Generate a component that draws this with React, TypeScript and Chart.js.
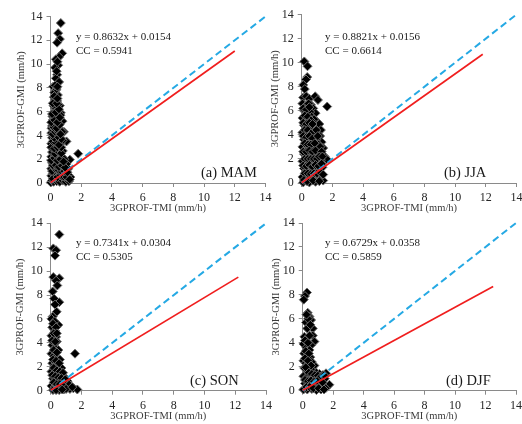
import React, { useEffect, useRef } from "react";
import { Chart, registerables } from "chart.js";

Chart.register(...registerables);

// ---------- text ----------
const panelNames = ["(a) MAM", "(b) JJA", "(c) SON", "(d) DJF"];
const equations = [
  "y = 0.8632x + 0.0154",
  "y = 0.8821x + 0.0156",
  "y = 0.7341x + 0.0304",
  "y = 0.6729x + 0.0358",
];
const ccTexts = ["CC = 0.5941", "CC = 0.6614", "CC = 0.5305", "CC = 0.5859"];
const xTitle = "3GPROF-TMI (mm/h)";
const yTitle = "3GPROF-GMI (mm/h)";

// ---------- axis ----------
const axisMin = 0;
const axisMax = 14;
const axisStep = 2;

// ---------- lines ----------
const oneToOneLine: [number, number][] = [
  [0, 0],
  [14, 14],
];
const mamFit: [number, number][] = [
  [0, 0.02],
  [12.0, 11.1],
];
const jjaFit: [number, number][] = [
  [0, 0.02],
  [11.8, 10.7],
];
const sonFit: [number, number][] = [
  [0, 0.03],
  [12.2, 9.5],
];
const djfFit: [number, number][] = [
  [0, 0.04],
  [12.5, 8.7],
];

// ---------- scatter points ----------
const mamPoints: [number, number][] = [
  [0.67, 13.45], [0.5, 12.6], [0.61, 12.1], [0.43, 11.8], [0.76, 10.9], [0.56, 10.6],
  [0.35, 10.4], [0.5, 9.9], [0.3, 9.7], [0.43, 9.1], [0.35, 8.8], [0.56, 8.5],
  [0.17, 8.1], [0.35, 7.8], [0.48, 7.4], [0.22, 7.2], [0.43, 6.9], [0.61, 6.5],
  [0.28, 6.3], [0.67, 5.9], [0.13, 5.6], [0.78, 5.2], [0.39, 5.2], [0.07, 4.6],
  [0.87, 4.3], [1.04, 3.5], [1.8, 2.46], [1.26, 1.96], [1.15, 1.2],
  [0.2, 6.5], [0.35, 6.3], [0.5, 6.6], [0.3, 7.0], [0.25, 7.6], [0.4, 7.9],
  [0.15, 5.3], [0.35, 5.5], [0.55, 5.4], [0.25, 5.9], [0.45, 6.0], [0.65, 5.7],
  [0.05, 4.2], [0.2, 4.4], [0.4, 4.1], [0.6, 4.5], [0.3, 4.9], [0.5, 4.7], [0.1, 4.8], [0.75, 4.3],
  [0.05, 3.3], [0.25, 3.2], [0.45, 3.5], [0.65, 3.3], [0.1, 3.8], [0.35, 3.9], [0.55, 3.8], [0.8, 3.6],
  [0.05, 2.2], [0.2, 2.5], [0.4, 2.1], [0.55, 2.4], [0.75, 2.2], [0.9, 2.0],
  [0.15, 2.9], [0.35, 2.8], [0.6, 2.9], [0.8, 2.7],
  [0.05, 1.2], [0.2, 1.4], [0.4, 1.1], [0.6, 1.3], [0.8, 1.2], [1.0, 1.1],
  [0.1, 1.7], [0.3, 1.9], [0.5, 1.6], [0.7, 1.8], [0.9, 1.5], [1.05, 1.6],
  [0.02, 0.05], [0.1, 0.2], [0.2, 0.1], [0.3, 0.4], [0.4, 0.15], [0.5, 0.3],
  [0.6, 0.1], [0.7, 0.45], [0.8, 0.2], [0.9, 0.35], [1.0, 0.1], [1.1, 0.3],
  [1.2, 0.15], [1.3, 0.5], [0.05, 0.6], [0.15, 0.8], [0.35, 0.7], [0.55, 0.9],
  [0.75, 0.75], [0.95, 0.8], [1.15, 0.7], [0.25, 1.0],
  [0.15, 0.35], [0.45, 0.5], [0.65, 0.65], [0.85, 0.55], [1.05, 0.5], [1.25, 0.3],
  [0.1, 1.0], [0.3, 1.2], [0.5, 1.1], [0.7, 1.0], [0.9, 1.0], [1.1, 0.9],
  [0.15, 1.5], [0.35, 1.5], [0.55, 1.35], [0.75, 1.45], [0.95, 1.3], [0.05, 1.9],
  [0.25, 2.1], [0.45, 1.9], [0.65, 2.0], [0.85, 1.8], [0.1, 2.6], [0.3, 2.45],
  [0.5, 2.65], [0.7, 2.5], [0.05, 3.0], [0.25, 2.9], [0.45, 3.0], [0.7, 3.0],
  [0.15, 3.5], [0.35, 3.4], [0.55, 3.2], [0.7, 3.7], [0.25, 3.8], [0.45, 3.95],
  [0.15, 4.1], [0.3, 4.3], [0.5, 4.3], [0.65, 4.1], [0.2, 4.7], [0.4, 4.6],
  [0.6, 4.9], [0.05, 5.1], [0.25, 5.3], [0.45, 5.1], [0.6, 5.5], [0.1, 5.8],
  [0.35, 5.95], [0.55, 6.2], [0.15, 6.7], [0.4, 6.7], [0.25, 7.3], [0.45, 7.1],
  [0.3, 8.2], [0.45, 8.1], [0.4, 9.4], [0.45, 10.2],
];

const jjaPoints: [number, number][] = [
  [0.17, 10.1], [0.38, 9.7], [0.36, 8.8], [0.28, 8.6], [0.1, 8.15], [0.2, 7.8],
  [0.1, 7.1], [0.3, 7.2], [0.5, 7.0], [0.88, 7.2], [1.06, 6.9], [1.66, 6.35],
  [0.6, 6.5], [0.75, 6.2], [0.9, 5.8], [1.0, 5.1], [1.15, 4.9], [1.25, 4.4],
  [1.2, 3.9], [1.3, 3.4], [1.4, 2.9], [1.5, 2.2], [1.62, 2.0],
  [0.05, 6.6], [0.25, 6.4], [0.45, 6.6], [0.15, 6.0], [0.35, 5.8], [0.55, 5.9],
  [0.05, 5.4], [0.25, 5.2], [0.45, 5.3], [0.65, 5.5], [0.8, 5.3], [0.15, 4.8],
  [0.35, 4.6], [0.55, 4.8], [0.05, 4.2], [0.25, 4.0], [0.45, 4.2], [0.65, 4.4],
  [0.95, 4.4], [0.15, 3.6], [0.35, 3.4], [0.55, 3.6], [0.75, 3.4], [0.95, 3.6],
  [1.1, 3.2], [0.05, 3.0], [0.25, 2.8], [0.45, 3.0], [0.65, 2.8], [0.85, 3.0],
  [1.05, 2.7], [0.15, 2.4], [0.35, 2.2], [0.55, 2.4], [0.75, 2.2], [0.95, 2.3],
  [1.2, 2.5], [0.05, 1.8], [0.25, 1.6], [0.45, 1.8], [0.65, 1.6], [0.85, 1.8],
  [1.05, 1.7], [1.25, 1.9], [0.15, 1.2], [0.35, 1.0], [0.55, 1.2], [0.75, 1.0],
  [0.95, 1.2], [1.15, 1.1], [1.35, 1.3], [0.05, 0.5], [0.25, 0.3], [0.45, 0.6],
  [0.65, 0.3], [0.85, 0.5], [1.05, 0.3], [1.25, 0.6], [1.4, 0.2], [0.1, 0.05],
  [0.5, 0.05], [0.9, 0.1],
  [0.1, 6.2], [0.3, 6.1], [0.5, 6.3], [0.2, 5.6], [0.4, 5.5], [0.6, 5.2],
  [0.1, 5.0], [0.3, 4.9], [0.5, 5.0], [0.7, 4.9], [0.2, 4.4], [0.4, 4.4],
  [0.6, 4.1], [0.1, 3.9], [0.3, 3.8], [0.5, 3.9], [0.7, 3.7], [1.05, 3.9],
  [0.2, 3.3], [0.4, 3.2], [0.6, 3.2], [0.85, 3.3], [1.2, 3.0], [0.1, 2.6],
  [0.3, 2.6], [0.5, 2.7], [0.7, 2.6], [0.9, 2.7], [1.3, 2.6], [0.2, 2.0],
  [0.4, 2.0], [0.6, 2.0], [0.8, 2.0], [1.0, 2.0], [1.15, 2.2], [1.35, 2.2],
  [0.1, 1.45], [0.3, 1.4], [0.5, 1.5], [0.7, 1.35], [0.9, 1.5], [1.1, 1.4],
  [1.3, 1.6], [0.2, 0.8], [0.4, 0.8], [0.6, 0.75], [0.8, 0.8], [1.0, 0.8],
  [1.2, 0.9], [1.4, 0.7], [0.15, 0.25], [0.35, 0.15], [0.75, 0.2], [1.15, 0.15],
];

const sonPoints: [number, number][] = [
  [0.56, 13.06], [0.17, 11.9], [0.35, 11.75], [0.28, 11.3], [0.17, 9.5], [0.56, 9.4],
  [0.35, 9.2], [0.43, 8.8], [0.13, 8.3], [0.22, 7.7], [0.56, 7.4], [0.28, 7.2],
  [0.39, 6.6], [0.13, 6.2], [0.5, 5.5], [0.22, 5.1], [0.35, 4.5], [1.58, 3.1],
  [1.47, 0.2], [1.73, 0.1],
  [0.05, 6.0], [0.25, 5.8], [0.1, 5.3], [0.3, 5.0], [0.05, 4.6], [0.2, 4.3],
  [0.4, 4.1], [0.1, 3.8], [0.3, 3.6], [0.5, 3.4], [0.05, 3.1], [0.2, 2.9],
  [0.4, 2.7], [0.6, 2.6], [0.1, 2.3], [0.3, 2.2], [0.5, 2.0], [0.7, 1.9],
  [0.05, 1.6], [0.25, 1.5], [0.45, 1.4], [0.65, 1.3], [0.85, 1.2], [0.15, 1.0],
  [0.35, 0.9], [0.55, 0.8], [0.75, 0.7], [0.95, 0.6], [1.1, 0.8], [0.05, 0.4],
  [0.25, 0.3], [0.45, 0.2], [0.65, 0.35], [0.85, 0.1], [1.05, 0.3], [1.25, 0.15],
  [0.15, 0.05], [0.55, 0.05],
  [0.15, 5.6], [0.35, 5.3], [0.2, 4.8], [0.4, 4.8], [0.1, 4.2], [0.3, 4.1],
  [0.2, 3.4], [0.4, 3.2], [0.15, 2.6], [0.35, 2.5], [0.55, 2.3], [0.2, 1.9],
  [0.4, 1.7], [0.6, 1.6], [0.8, 1.5], [0.1, 1.3], [0.3, 1.2], [0.5, 1.1],
  [0.7, 1.05], [0.95, 0.95], [1.2, 0.5], [0.2, 0.7], [0.4, 0.55], [0.6, 0.55],
  [0.8, 0.4], [1.0, 0.15], [0.35, 0.05], [0.75, 0.1], [1.4, 0.3],
];

const djfPoints: [number, number][] = [
  [0.28, 8.2], [0.15, 7.9], [0.07, 7.6], [0.33, 6.5], [0.44, 6.2], [0.55, 5.9],
  [0.66, 5.2], [0.22, 5.7], [0.66, 4.6], [0.77, 4.1], [0.55, 3.8], [0.11, 4.5],
  [0.77, 2.1], [1.53, 1.45], [1.75, 0.5],
  [0.05, 3.9], [0.25, 3.6], [0.45, 3.4], [0.1, 3.1], [0.3, 2.9], [0.5, 2.8],
  [0.05, 2.5], [0.2, 2.3], [0.4, 2.2], [0.6, 2.4], [0.1, 1.9], [0.3, 1.7],
  [0.5, 1.8], [0.7, 1.6], [0.9, 1.5], [1.1, 1.4], [1.3, 1.3], [0.05, 1.2],
  [0.25, 1.1], [0.45, 1.0], [0.65, 1.1], [0.85, 0.9], [1.05, 1.0], [1.25, 0.9],
  [1.45, 1.0], [0.15, 0.6], [0.35, 0.5], [0.55, 0.6], [0.75, 0.4], [0.95, 0.5],
  [1.15, 0.6], [1.35, 0.4], [0.05, 0.1], [0.3, 0.1], [0.6, 0.15], [0.9, 0.05],
  [1.2, 0.1], [1.5, 0.2],
  [0.15, 4.2], [0.35, 4.0], [0.2, 3.3], [0.4, 3.1], [0.15, 2.7], [0.35, 2.5],
  [0.55, 2.1], [0.2, 1.95], [0.4, 1.5], [0.6, 1.4], [0.8, 1.3], [1.0, 1.25],
  [1.2, 1.15], [1.4, 1.3], [0.15, 0.9], [0.35, 0.8], [0.55, 0.85], [0.75, 0.75],
  [0.95, 0.8], [1.15, 0.35], [1.3, 0.7], [0.25, 0.3], [0.45, 0.3], [0.7, 0.2],
  [1.05, 0.2], [1.4, 0.1], [0.45, 4.6], [0.3, 5.2], [0.35, 6.0], [0.25, 6.35],
  [0.5, 5.5],
];

const panelPoints = [mamPoints, jjaPoints, sonPoints, djfPoints];
const panelFits = [mamFit, jjaFit, sonFit, djfFit];

// ---------- layout (pixel positions of each panel's plot area) ----------
const panelLayout = [
  { left: 50.5, top: 16.5, right: 265.5, bottom: 183, eqDx: 25.5, eqDy: 21, labelDx: 150.5, yTitleOffset: 29 },
  { left: 301.7, top: 14.5, right: 517.5, bottom: 183, eqDx: 23.3, eqDy: 23, labelDx: 142.3, yTitleOffset: 26 },
  { left: 50.7, top: 223.3, right: 266, bottom: 390.7, eqDx: 25.3, eqDy: 19.5, labelDx: 139.3, yTitleOffset: 30 },
  { left: 302.7, top: 223, right: 516, bottom: 390.7, eqDx: 22.3, eqDy: 19.7, labelDx: 143.3, yTitleOffset: 26 },
];

const W = 522;
const H = 424;
const Y_AXIS_W = 40;
const X_AXIS_H = 32;
const SERIF = "'Liberation Serif', 'Times New Roman', serif";

function toXY(list: [number, number][]) {
  return list.map(([x, y]) => ({ x, y }));
}

function Panel({ index }: { index: number }) {
  const ref = useRef<HTMLCanvasElement | null>(null);
  useEffect(() => {
    const lay = panelLayout[index];
    const titleLH = 10.5 * 1.2;
    const textPlugin = {
      id: "panelText" + index,
      afterDraw(chart: any) {
        const { ctx, chartArea } = chart;
        ctx.save();
        ctx.fillStyle = "#1a1a1a";
        ctx.textBaseline = "middle";
        ctx.textAlign = "left";
        ctx.font = "11px " + SERIF;
        ctx.fillText(equations[index], chartArea.left + lay.eqDx, chartArea.top + lay.eqDy);
        ctx.fillText(ccTexts[index], chartArea.left + lay.eqDx, chartArea.top + lay.eqDy + 14);
        ctx.font = "14.5px " + SERIF;
        ctx.fillText(panelNames[index], chartArea.left + lay.labelDx, chartArea.bottom - 10);
        ctx.restore();
      },
    };
    const chart = new Chart(ref.current as HTMLCanvasElement, {
      type: "scatter",
      data: {
        datasets: [
          {
            label: "fit",
            data: toXY(panelFits[index]),
            showLine: true,
            borderColor: "#f01e1e",
            borderWidth: 1.7,
            pointRadius: 0,
            fill: false,
            clip: false,
            order: 1,
          } as any,
          {
            label: "1:1",
            data: toXY(oneToOneLine),
            showLine: true,
            borderColor: "#25a9e4",
            borderWidth: 2,
            borderDash: [7, 4],
            pointRadius: 0,
            fill: false,
            clip: false,
            order: 2,
          } as any,
          {
            label: "points",
            data: toXY(panelPoints[index]),
            pointStyle: "rectRot",
            pointRadius: 4.5,
            backgroundColor: "#000000",
            borderColor: "#707070",
            borderWidth: 1,
            clip: false,
            order: 3,
          } as any,
        ],
      },
      options: {
        responsive: false,
        animation: false,
        devicePixelRatio: 1,
        layout: {
          padding: {
            left: lay.left - Y_AXIS_W,
            top: lay.top,
            right: W - lay.right,
            bottom: H - lay.bottom - X_AXIS_H,
          },
        },
        plugins: {
          legend: { display: false },
          tooltip: { enabled: false },
        },
        scales: {
          x: {
            type: "linear",
            min: axisMin,
            max: axisMax,
            ticks: {
              stepSize: axisStep,
              color: "#262626",
              font: { family: SERIF, size: 12 },
              padding: 4,
              maxRotation: 0,
              autoSkip: false,
            },
            grid: {
              display: true,
              drawOnChartArea: false,
              drawTicks: true,
              tickLength: 4,
              color: "#8a8a8a",
            },
            border: { display: true, color: "#8a8a8a", width: 1 },
            title: {
              display: true,
              text: xTitle,
              color: "#3a3a3a",
              font: { family: SERIF, size: 10.5 },
              padding: { top: 0, bottom: 0 },
            },
            afterFit(scale: any) {
              scale.height = X_AXIS_H;
              scale.paddingLeft = 0;
              scale.paddingRight = 0;
            },
          },
          y: {
            type: "linear",
            min: axisMin,
            max: axisMax,
            ticks: {
              stepSize: axisStep,
              color: "#262626",
              font: { family: SERIF, size: 12 },
              padding: 4,
            },
            grid: {
              display: true,
              drawOnChartArea: false,
              drawTicks: true,
              tickLength: 4,
              color: "#8a8a8a",
            },
            border: { display: true, color: "#8a8a8a", width: 1 },
            title: {
              display: true,
              text: yTitle,
              color: "#3a3a3a",
              font: { family: SERIF, size: 10.5 },
              padding: { top: Y_AXIS_W - lay.yTitleOffset - titleLH / 2, bottom: 0 },
            },
            afterFit(scale: any) {
              scale.width = Y_AXIS_W;
              scale.paddingTop = 0;
              scale.paddingBottom = 0;
            },
          },
        },
      } as any,
      plugins: [textPlugin],
    });
    return () => chart.destroy();
  }, [index]);
  return (
    <canvas
      ref={ref}
      width={W}
      height={H}
      style={{ position: "absolute", left: 0, top: 0, width: W, height: H }}
    />
  );
}

export default function App() {
  return (
    <div style={{ position: "absolute", left: 0, top: 0, width: W, height: H, background: "#ffffff", overflow: "hidden" }}>
      {[0, 1, 2, 3].map((i) => (
        <Panel key={i} index={i} />
      ))}
    </div>
  );
}
